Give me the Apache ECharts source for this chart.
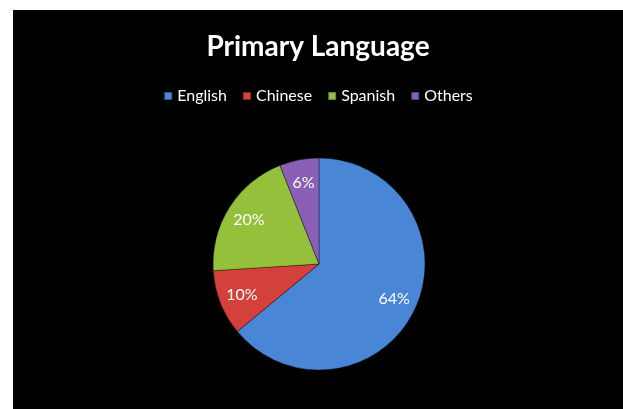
<!DOCTYPE html>
<html><head><meta charset="utf-8">
<script src="https://cdn.jsdelivr.net/npm/echarts@6/dist/echarts.min.js"></script>
<style>html,body{margin:0;padding:0;background:#fff;}#c{position:absolute;left:13px;top:10px;width:610px;height:399px;background:#000;}</style>
</head><body><div id="c"></div>
<script>
const categories = ['English', 'Chinese', 'Spanish', 'Others'];
const values = [64, 10, 20, 6];
const colors = ['#4a86d6', '#d4403a', '#95c03c', '#8a5fb5'];
const titleText = 'Primary Language';

const chart = echarts.init(document.getElementById('c'), null, {renderer: 'canvas'});
const center = [306, 254];
chart.setOption({
  backgroundColor: '#000',
  title: {
    text: titleText, left: 'center', top: 18,
    textStyle: {color: '#fff', fontFamily: 'Lato', fontWeight: 'bold', fontSize: 28}
  },
  legend: {
    data: categories, top: 73, left: 'center',
    icon: 'rect', itemWidth: 8, itemHeight: 8, itemGap: 15,
    textStyle: {color: '#fff', fontFamily: 'Lato', fontSize: 16},
    selectedMode: false
  },
  series: [{
    type: 'pie', radius: [0, 106], center: center,
    startAngle: 90, clockwise: true,
    data: categories.map((n, i) => ({name: n, value: values[i], itemStyle: {color: colors[i]}})),
    label: {show: false}, labelLine: {show: false},
    itemStyle: {borderColor: 'rgba(0,0,0,0.35)', borderWidth: 1},
    emphasis: {disabled: true}, animation: false, silent: true
  }, {
    type: 'pie', radius: [54, 106], center: center,
    startAngle: 90, clockwise: true,
    data: categories.map((n, i) => ({name: n, value: values[i]})),
    itemStyle: {color: 'rgba(0,0,0,0)', borderWidth: 0},
    label: {show: true, position: 'inside', formatter: '{d}%', color: '#fff', fontFamily: 'Lato', fontSize: 16},
    labelLine: {show: false},
    emphasis: {disabled: true}, animation: false, silent: true
  }]
});
</script></body></html>
